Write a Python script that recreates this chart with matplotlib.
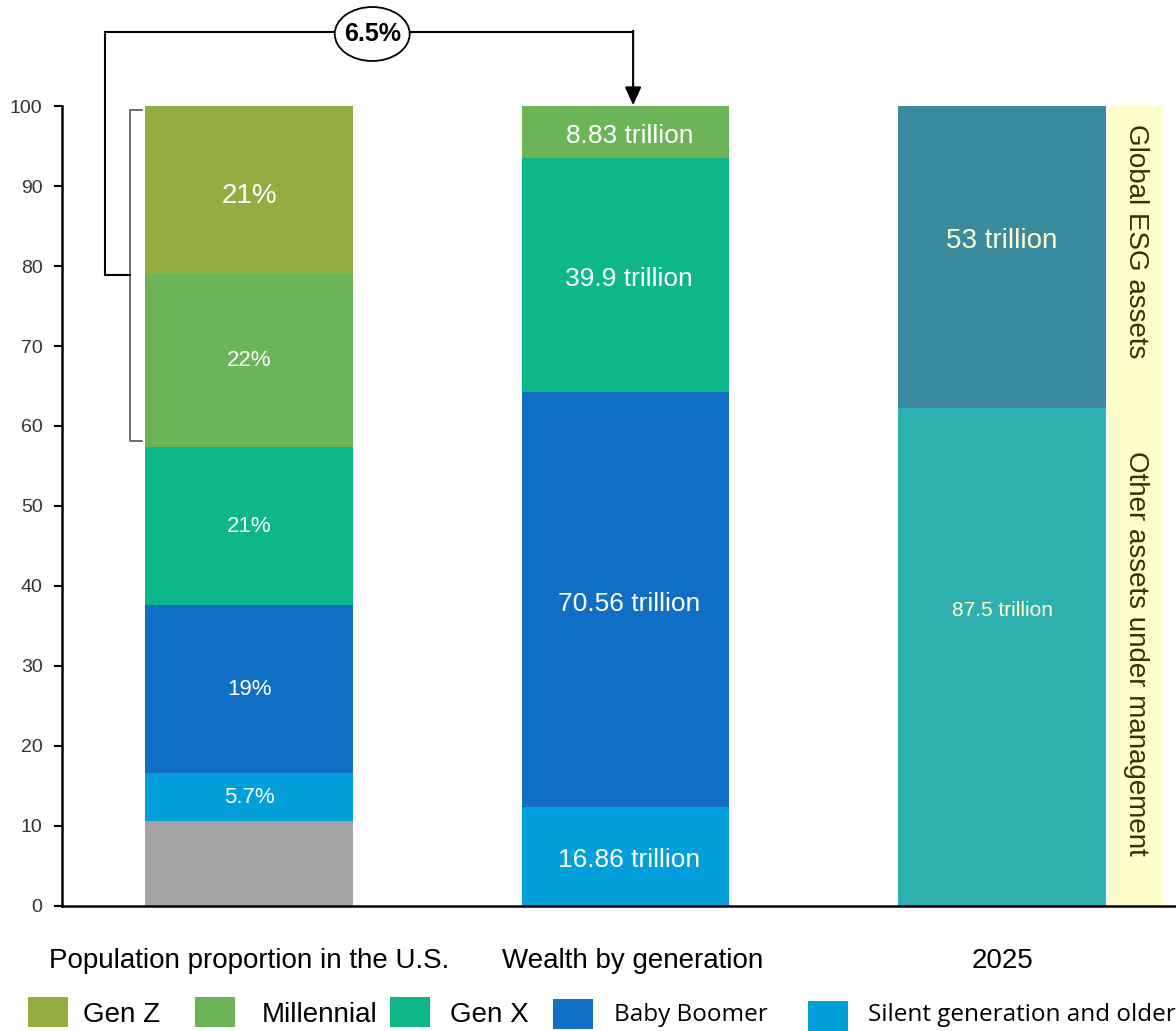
import matplotlib
matplotlib.use("Agg")
import matplotlib.pyplot as plt
from matplotlib.patches import Ellipse, Rectangle

plt.rcParams['font.family'] = ['Liberation Sans', 'DejaVu Sans']

# ---- data ----
categories = ["Population proportion in the U.S.", "Wealth by generation", "2025"]

# population bar (bottom -> top), share of 100
pop_groups = ["Other", "Silent generation and older", "Baby Boomer", "Gen X", "Millennial", "Gen Z"]
pop_height = [10.6, 6.0, 21.0, 19.8, 21.6, 21.0]
pop_labels = ["", "5.7%", "19%", "21%", "22%", "21%"]

# wealth bar (bottom -> top), trillions
wealth_groups = ["Silent generation and older", "Baby Boomer", "Gen X", "Millennial"]
wealth_trillion = [16.86, 70.56, 39.9, 8.83]

# 2025 bar (bottom -> top), trillions
assets_names = ["Other assets under management", "Global ESG assets"]
assets_trillion = [87.5, 53]
assets_labels = ["87.5 trillion", "53 trillion"]

transfer_pct = "6.5%"

legend_names = ["Gen Z", "Millennial", "Gen X", "Baby Boomer", "Silent generation and older"]

colors = {
    "Other": "#a5a5a5",
    "Silent generation and older": "#029fda",
    "Baby Boomer": "#106ec4",
    "Gen X": "#0db78a",
    "Millennial": "#6cb457",
    "Gen Z": "#94ad41",
    "Other assets under management": "#2eafb0",
    "Global ESG assets": "#3c8a9e",
}

fig = plt.figure(figsize=(11.76, 10.31), dpi=100)
ax = fig.add_axes([62 / 1176, 125 / 1031, 1 - 62 / 1176, 800 / 1031])
W = 0.552

# bar 1
bottom = 0
pop_sizes = [16, 16, 16, 16, 16, 20]
for g, h, lab, fs in zip(pop_groups, pop_height, pop_labels, pop_sizes):
    ax.bar(0, h, bottom=bottom, width=W, color=colors[g], linewidth=0)
    if lab:
        off = -0.8 if g == "Gen Z" else 0
        ax.text(0, bottom + h / 2 + off, lab, ha="center", va="center", color="white", fontsize=fs)
    bottom += h

# bar 2
total = sum(wealth_trillion)
bottom = 0
for g, v in zip(wealth_groups, wealth_trillion):
    h = v / total * 100
    ax.bar(1, h, bottom=bottom, width=W, color=colors[g], linewidth=0)
    ax.text(1.01, bottom + h / 2 - 0.5, f"{v:g} trillion", ha="center", va="center", color="white", fontsize=19)
    bottom += h

# bar 3
total = sum(assets_trillion)
bottom = 0
label_y = [37, 83.1]
label_fs = [15, 20]
for g, v, lab, ly, fs in zip(assets_names, assets_trillion, assets_labels, label_y, label_fs):
    h = v / total * 100
    ax.bar(2, h, bottom=bottom, width=W, color=colors[g], linewidth=0)
    ax.text(2, ly, lab, ha="center", va="center", color="#ffffcc", fontsize=fs)
    bottom += h

# yellow side strip with rotated captions
ax.add_patch(Rectangle((2.279, 0), 0.149, 100, facecolor="#ffffcc", edgecolor="none"))
ax.text(2.355, 83.1, assets_names[1], rotation=270, ha="center", va="center",
        fontsize=20, color="#333300")
ax.text(2.355, 31.6, assets_names[0], rotation=270, ha="center", va="center",
        fontsize=20, color="#333300")

# bracket and transfer arrow
ax.plot([-0.284, -0.316, -0.316, -0.284], [99.5, 99.5, 58.1, 58.1], color="#555555", lw=1.2, clip_on=False)
ax.plot([-0.316, -0.382, -0.382, 1.02], [78.9, 78.9, 109.25, 109.25], color="black", lw=1.5,
        clip_on=False, solid_joinstyle="miter")
ax.annotate("", xy=(1.02, 100.1), xytext=(1.02, 109.4), annotation_clip=False,
            arrowprops=dict(arrowstyle="-|>,head_length=1.1,head_width=0.5", color="black", lw=1.5,
                            shrinkA=0, shrinkB=0))
ax.add_patch(Ellipse((0.327, 109.0), 0.199, 6.75, facecolor="white", edgecolor="black", lw=1.3,
                     clip_on=False, zorder=5))
ax.text(0.327, 109.0, transfer_pct, ha="center", va="center", fontsize=18, fontweight="bold", zorder=6)

# axes styling
ax.set_xlim(-0.497, 2.462)
ax.set_ylim(0, 100)
ax.set_yticks(range(0, 101, 10))
ax.set_xticks([0, 1.02, 2])
ax.set_xticklabels([categories[0], categories[1], categories[2]], fontsize=20)
ax.tick_params(axis="x", length=0, pad=30)
ax.tick_params(axis="y", length=6, width=1.5, labelsize=14, labelcolor="#333333", direction="out", pad=8)
for s in ["top", "right"]:
    ax.spines[s].set_visible(False)
ax.spines["left"].set_linewidth(1.8)
ax.spines["bottom"].set_linewidth(1.8)

# legend drawn along the bottom
leg_sq_x = [28, 195, 390, 553, 808]
leg_sq_y = [4, 4, 4, 2, 0]
leg_txt_x = [83, 262, 450, 614, 868]
leg_fs = [20, 20, 20, 17.5, 17.5]
for name, sx, sy, tx, fs in zip(legend_names, leg_sq_x, leg_sq_y, leg_txt_x, leg_fs):
    fig.patches.append(Rectangle((sx / 1176, sy / 1031), 40 / 1176, 30 / 1031, facecolor=colors[name],
                                 edgecolor="none", transform=fig.transFigure))
    fig.text(tx / 1176, 16 / 1031, name, fontsize=fs, va="center", ha="left",
             family=['Liberation Sans', 'DejaVu Sans'] if fs == 20 else ['Open Sans', 'DejaVu Sans'])

fig.savefig("out.png", dpi=100)
plt.close(fig)
